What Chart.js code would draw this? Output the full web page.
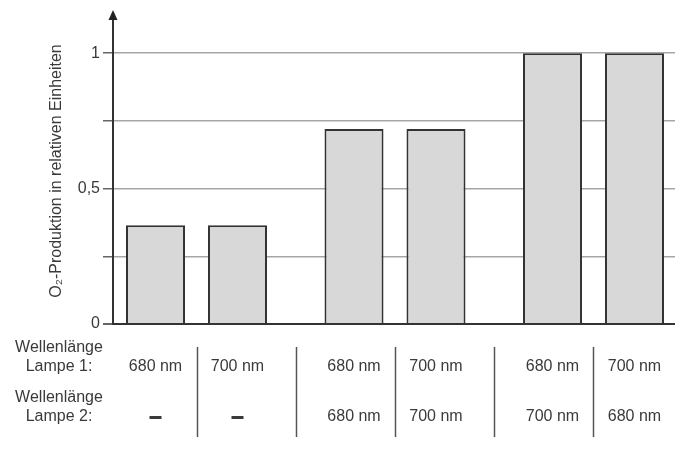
<!DOCTYPE html>
<html lang="de">
<head>
<meta charset="utf-8">
<title>O2-Produktion</title>
<script src="https://cdn.jsdelivr.net/npm/chart.js@4/dist/chart.umd.min.js"></script>
<style>
    html, body { margin: 0; padding: 0; background: #fff; }
    #chart { display: block; }
</style>
</head>
<body>
<canvas id="chart" width="698" height="452"></canvas>
<script>
// Chart data
const groups = [0, 1, 2];
const leftBars = [0.365, 0.72, 1];
const rightBars = [0.365, 0.72, 1];
const lampe1 = ['680 nm', '700 nm', '680 nm', '700 nm', '680 nm', '700 nm'];
const lampe2 = ['–', '–', '680 nm', '700 nm', '700 nm', '680 nm'];
const rowLabels = [['Wellenlänge', 'Lampe 1:'], ['Wellenlänge', 'Lampe 2:']];
const yLabels = { 0: '0', 0.5: '0,5', 1: '1' };
const axisTitle = 'O₂-Produktion in relativen Einheiten';

const FONT = '"Liberation Sans", Arial, sans-serif';
const TEXT = '#3a3a3a';

// Arrow on top of the y axis + wavelength table below the bars
const extrasPlugin = {
    id: 'extras',
    afterDraw(chart) {
        const ctx = chart.ctx;
        const area = chart.chartArea;

        // arrow head
        ctx.save();
        ctx.fillStyle = '#222';
        ctx.beginPath();
        ctx.moveTo(area.left, area.top - 8);
        ctx.lineTo(area.left - 4.5, area.top + 2);
        ctx.lineTo(area.left + 4.5, area.top + 2);
        ctx.closePath();
        ctx.fill();

        // bar centres, in drawing order
        const centres = [];
        groups.forEach((g, i) => {
            chart.data.datasets.forEach((ds, d) => {
                centres.push(chart.getDatasetMeta(d).data[i].x);
            });
        });

        ctx.font = '16px ' + FONT;
        ctx.fillStyle = TEXT;
        ctx.textAlign = 'center';
        ctx.textBaseline = 'middle';

        const rowY = [367, 417];
        rowLabels.forEach((lines, r) => {
            ctx.fillText(lines[0], 59, rowY[r] - 19);
            ctx.fillText(lines[1], 59, rowY[r]);
        });

        centres.forEach((x, i) => {
            ctx.fillText(lampe1[i], x, rowY[0]);
            if (lampe2[i] === '–') {
                ctx.fillRect(x - 6, rowY[1] - 1, 12, 3);
            } else {
                ctx.fillText(lampe2[i], x, rowY[1]);
            }
        });

        // separators between columns
        ctx.strokeStyle = '#555';
        ctx.lineWidth = 1.5;
        for (let i = 1; i < centres.length; i++) {
            const x = Math.round((centres[i - 1] + centres[i]) / 2) + 0.5;
            ctx.beginPath();
            ctx.moveTo(x, 347);
            ctx.lineTo(x, 437);
            ctx.stroke();
        }
        ctx.restore();
    }
};

const barStyle = {
    backgroundColor: '#d8d8d8',
    borderColor: '#333',
    borderWidth: 2,
    barPercentage: 0.72,
    categoryPercentage: 0.826
};

new Chart(document.getElementById('chart'), {
    type: 'bar',
    data: {
        datasets: [
            Object.assign({ label: 'links', data: groups.map((g, i) => ({ x: g, y: leftBars[i] })) }, barStyle),
            Object.assign({ label: 'rechts', data: groups.map((g, i) => ({ x: g, y: rightBars[i] })) }, barStyle)
        ]
    },
    options: {
        responsive: false,
        animation: false,
        events: [],
        layout: { padding: { top: 18, right: 23, bottom: 128, left: 0 } },
        plugins: {
            legend: { display: false },
            tooltip: { enabled: false }
        },
        scales: {
            x: {
                type: 'linear',
                display: false,
                offset: false,
                min: -0.4207,
                max: 2.4106,
                ticks: { stepSize: 1, includeBounds: false }
            },
            y: {
                min: 0,
                max: 1.13,
                afterFit(scale) { scale.width = 113; },
                ticks: {
                    stepSize: 0.25,
                    includeBounds: false,
                    padding: 3,
                    color: TEXT,
                    font: { family: FONT, size: 16 },
                    callback: v => yLabels[v] || ''
                },
                grid: {
                    color: c => c.tick && c.tick.value === 0 ? '#333' : '#a6a6a6',
                    lineWidth: c => c.tick && c.tick.value === 0 ? 2 : 1.5,
                    tickColor: '#666',
                    tickLength: 10
                },
                border: { display: true, color: '#333', width: 2 },
                title: {
                    display: true,
                    text: axisTitle,
                    color: TEXT,
                    font: { family: FONT, size: 16 },
                    padding: { top: 47, bottom: 0 }
                }
            }
        }
    },
    plugins: [extrasPlugin]
});
</script>
</body>
</html>
